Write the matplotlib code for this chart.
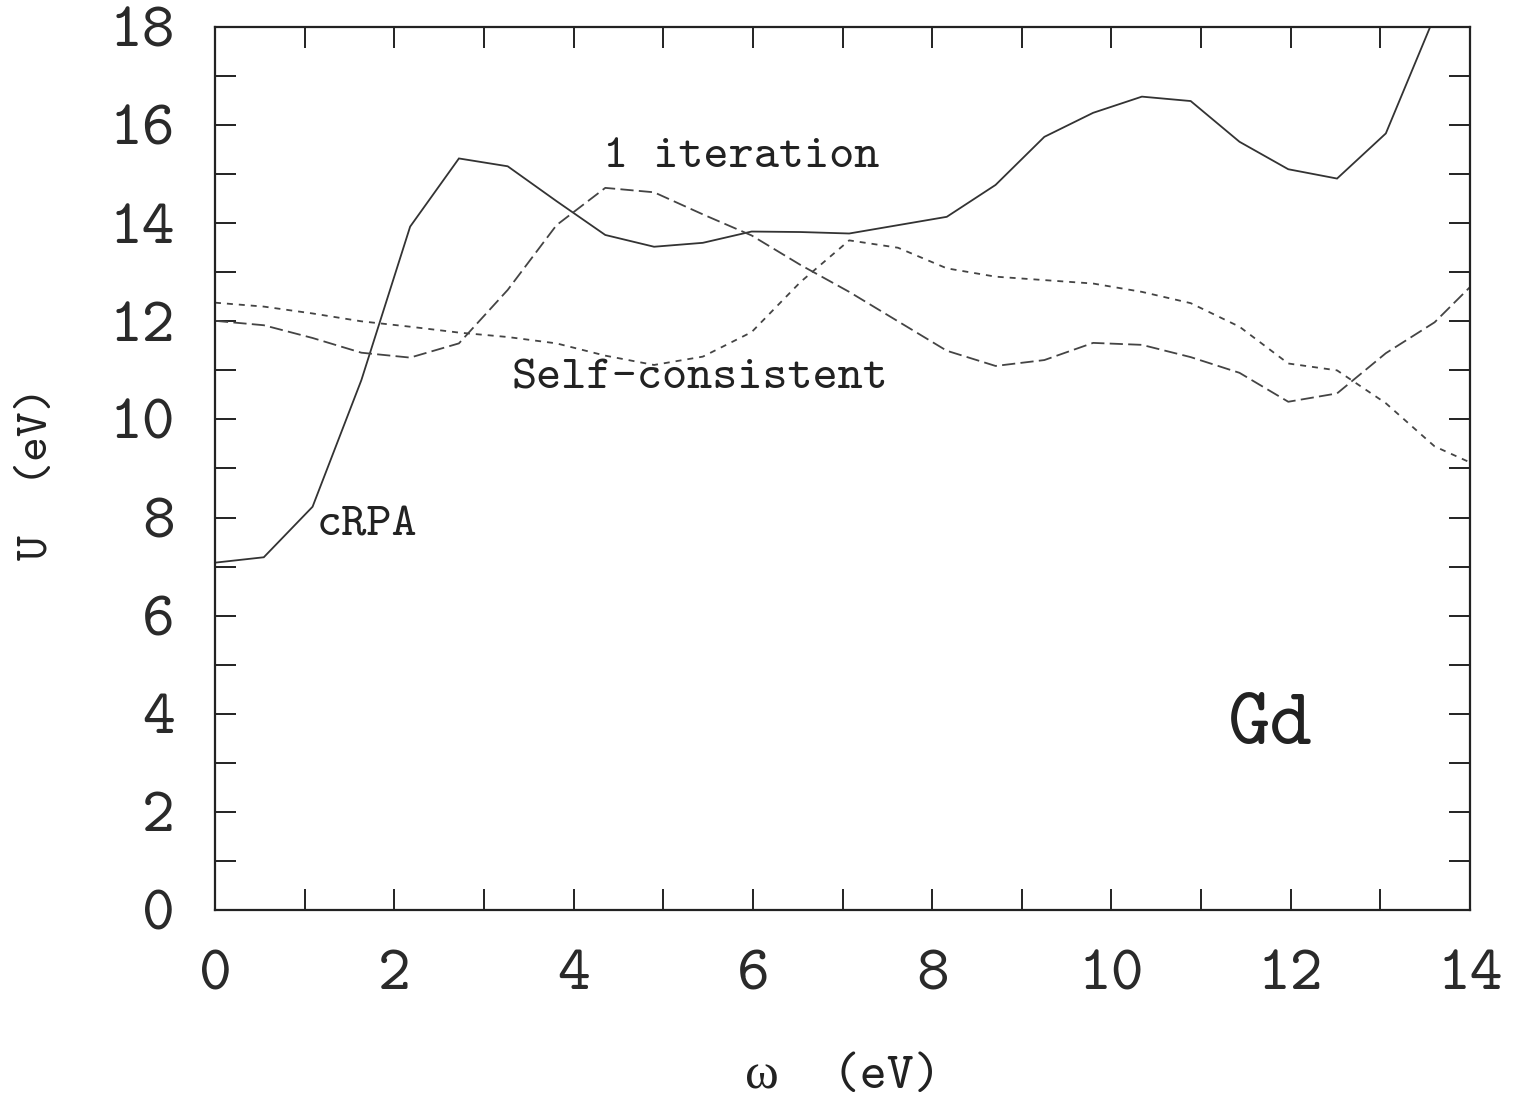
import os
import numpy as np
import matplotlib
matplotlib.use("Agg")
import matplotlib.pyplot as plt
from matplotlib import font_manager

# typewriter face bundled with matplotlib
cmtt = os.path.join(matplotlib.get_data_path(), 'fonts', 'ttf', 'cmtt10.ttf')
font_manager.fontManager.addfont(cmtt)

plt.rcParams['font.family'] = ['cmtt10', 'Liberation Serif', 'DejaVu Sans']
plt.rcParams['lines.scale_dashes'] = False
plt.rcParams['axes.unicode_minus'] = False

# frequency grid (eV), 0.04 Ry steps
omega = np.arange(27) * 0.5442

# screened U(omega) for Gd
u_crpa = [7.08, 7.19, 8.22, 10.8, 13.93, 15.32, 15.16, 14.45, 13.76, 13.52,
          13.6, 13.83, 13.82, 13.79, 13.96, 14.13, 14.78, 15.76, 16.25, 16.58,
          16.49, 15.66, 15.1, 14.91, 15.83, 18.22, 21.0]
u_iter1 = [12.01, 11.92, 11.66, 11.36, 11.26, 11.55, 12.64, 13.96, 14.72, 14.63,
           14.18, 13.75, 13.15, 12.6, 12.0, 11.4, 11.09, 11.21, 11.56, 11.52,
           11.27, 10.95, 10.36, 10.53, 11.35, 11.98, 12.97]
u_selfc = [12.38, 12.3, 12.16, 12.0, 11.89, 11.77, 11.68, 11.55, 11.3, 11.11,
           11.28, 11.78, 12.8, 13.65, 13.5, 13.08, 12.91, 12.84, 12.77, 12.6,
           12.37, 11.89, 11.14, 11.0, 10.33, 9.45, 9.0]

fig = plt.figure(figsize=(15.13, 11.01), dpi=100)
ax = fig.add_axes([0.1421, 0.1735, 0.8295, 0.802])

ax.plot(omega, u_crpa, color='#333333', lw=1.3, solid_joinstyle='miter')
ax.plot(omega, u_iter1, color='#444444', lw=1.3, dashes=(9.5, 3.8))
ax.plot(omega, u_selfc, color='#444444', lw=1.3, dashes=(4.3, 4.3))

ax.set_xlim(0, 14)
ax.set_ylim(0, 18)
ax.set_xticks(np.arange(0, 15, 2))
ax.set_xticks(np.arange(1, 14, 2), minor=True)
ax.set_yticks(np.arange(0, 19, 2))
ax.set_yticks(np.arange(1, 18, 2), minor=True)

for s in ax.spines.values():
    s.set_linewidth(1.6)
    s.set_color('#222222')
ax.tick_params(which='both', direction='in', top=True, right=True,
               length=15, width=1.4, color='#222222')
ax.tick_params(which='major', labelsize=45, labelcolor='#2a2a2a')
ax.tick_params(axis='x', which='major', pad=29)
ax.tick_params(axis='y', which='major', pad=29)

ax.set_xlabel('ω  (eV)', fontsize=37, color='#222222')
ax.set_ylabel('U  (eV)', fontsize=34, color='#222222')
ax.xaxis.set_label_coords(0.5, -0.165)
ax.yaxis.set_label_coords(-0.125, 0.494)

txt = dict(fontsize=34.5, color='#222222', va='center', ha='left')
ax.text(4.33, 15.33, '1 iteration', **txt)
ax.text(3.31, 10.82, 'Self-consistent', **txt)
ax.text(1.13, 7.81, 'cRPA', **txt)
ax.text(11.3, 3.71, 'Gd', fontsize=58, color='#222222', va='center', ha='left')

fig.savefig('out.png', dpi=100)
